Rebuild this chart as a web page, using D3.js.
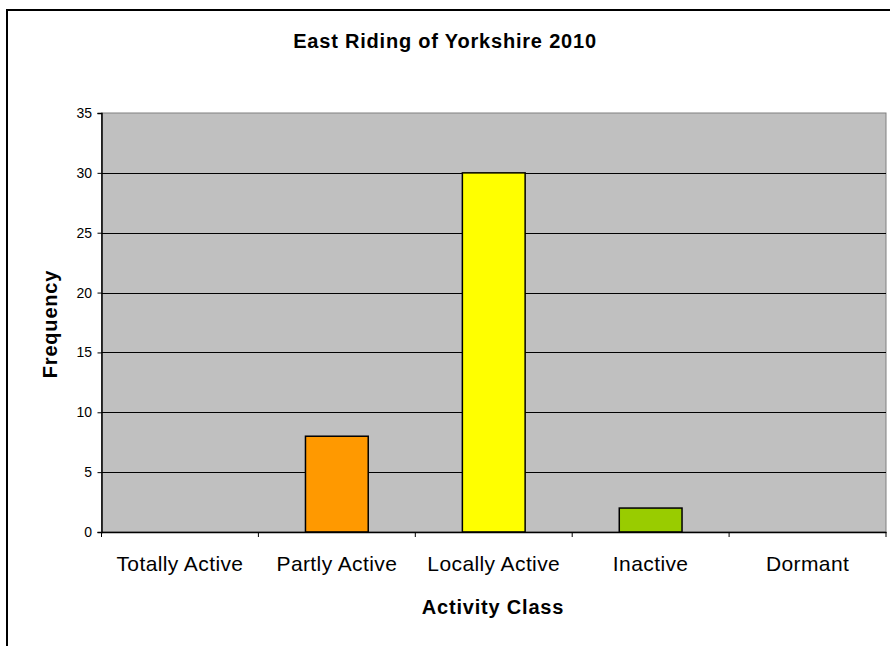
<!DOCTYPE html>
<html><head><meta charset="utf-8">
<script src="https://cdn.jsdelivr.net/npm/d3@7"></script>
<style>html,body{margin:0;padding:0;background:#fff;}svg{display:block;font-family:"Liberation Sans",Arial,sans-serif;}</style>
</head><body>
<svg id="c" width="890" height="646"></svg>
<script>
const categories = ["Totally Active","Partly Active","Locally Active","Inactive","Dormant"];
const values = [0, 8, 30, 2, 0];
const barColors = ["#FF9900","#FF9900","#FFFF00","#99CC00","#99CC00"];
const yTicks = [0,5,10,15,20,25,30,35];
const title = "East Riding of Yorkshire 2010";
const xTitle = "Activity Class";
const yTitle = "Frequency";

const svg = d3.select("#c");
// outer frame
svg.append("rect").attr("x",7).attr("y",10).attr("width",900).attr("height",700)
  .attr("fill","#fff").attr("stroke","#000").attr("stroke-width",2);

const m = {l:101.5, r:886, t:113, b:532};
const x = d3.scaleBand().domain(categories).range([m.l, m.r]).paddingInner(0.6).paddingOuter(0.3);
const xc = d3.scaleBand().domain(categories).range([m.l, m.r]);
const y = d3.scaleLinear().domain([0,35]).range([m.b, m.t]);

svg.append("rect").attr("x",m.l).attr("y",m.t).attr("width",m.r-m.l).attr("height",m.b-m.t)
  .attr("fill","#C0C0C0").attr("stroke","#808080").attr("stroke-width",1);

// gridlines
svg.append("g").selectAll("line").data(yTicks.filter(d=>d>0 && d<35)).join("line")
  .attr("x1",m.l).attr("x2",m.r).attr("y1",d=>Math.round(y(d))+0.5).attr("y2",d=>Math.round(y(d))+0.5)
  .attr("stroke","#000").attr("stroke-width",1);

// bars
svg.append("g").selectAll("rect").data(categories).join("rect")
  .attr("x",d=>x(d)).attr("width",x.bandwidth())
  .attr("y",(d,i)=>y(values[i])).attr("height",(d,i)=>y(0)-y(values[i]))
  .attr("fill",(d,i)=>barColors[i])
  .attr("stroke",(d,i)=>values[i]>0?"#000":"none").attr("stroke-width",1.5);

// y axis
const ya = svg.append("g").attr("transform",`translate(${m.l},0)`)
  .call(d3.axisLeft(y).tickValues(yTicks).tickSize(4).tickPadding(5.5));
ya.select(".domain").attr("stroke","#000").attr("stroke-width",1.5);
ya.selectAll(".tick line").attr("stroke","#000");
ya.selectAll("text").attr("font-size",14).attr("fill","#000").attr("font-family","Liberation Sans, Arial, sans-serif");

// x axis
const xa = svg.append("g").attr("transform",`translate(0,${m.b})`)
  .call(d3.axisBottom(xc).tickSize(0).tickPadding(22));
xa.select(".domain").attr("stroke","#000").attr("stroke-width",1.5);
xa.selectAll("text").attr("font-size",21).attr("letter-spacing",0.4).attr("fill","#000")
  .attr("font-family","Liberation Sans, Arial, sans-serif").attr("dy",null).attr("y",39);
// category boundary ticks
const bounds = categories.map(c=>xc(c)).concat([m.r]);
svg.append("g").selectAll("line").data(bounds).join("line")
  .attr("x1",d=>d).attr("x2",d=>d).attr("y1",m.b).attr("y2",m.b+5).attr("stroke","#000");

svg.append("text").attr("x",445).attr("y",48).attr("text-anchor","middle")
  .attr("font-size",20).attr("letter-spacing",0.8).attr("font-weight","bold").text(title);
svg.append("text").attr("x",493).attr("y",614).attr("text-anchor","middle")
  .attr("font-size",20).attr("letter-spacing",0.8).attr("font-weight","bold").text(xTitle);
svg.append("text").attr("transform","translate(57,324) rotate(-90)").attr("text-anchor","middle")
  .attr("font-size",20).attr("letter-spacing",0.8).attr("font-weight","bold").text(yTitle);
</script></body></html>
